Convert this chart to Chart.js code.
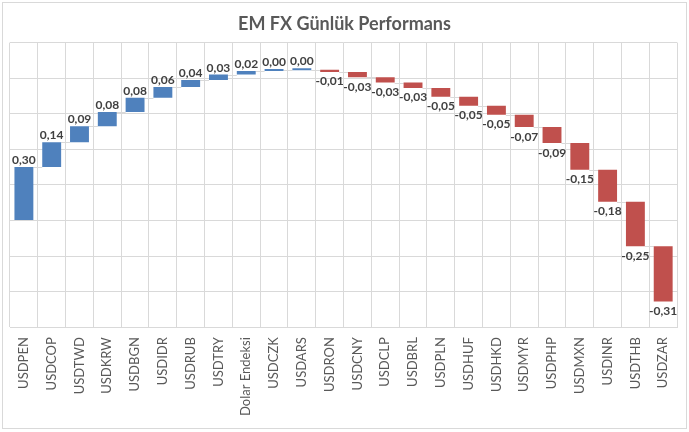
<!DOCTYPE html>
<html>
<head>
<meta charset="utf-8">
<script src="https://cdn.jsdelivr.net/npm/chart.js@4"></script>
<style>
  html, body { margin: 0; padding: 0; background: #fff; }
  #wrap { width: 689px; height: 432px; position: relative; }
</style>
</head>
<body>
<div id="wrap"><canvas id="chart"></canvas></div>
<script>
  // categories and daily change (%)
  const categories = ['USDPEN', 'USDCOP', 'USDTWD', 'USDKRW', 'USDBGN', 'USDIDR', 'USDRUB', 'USDTRY',
    'Dolar Endeksi', 'USDCZK', 'USDARS', 'USDRON', 'USDCNY', 'USDCLP', 'USDBRL', 'USDPLN', 'USDHUF',
    'USDHKD', 'USDMYR', 'USDPHP', 'USDMXN', 'USDINR', 'USDTHB', 'USDZAR'];
  const changes = [0.30, 0.14, 0.09, 0.08, 0.08, 0.06, 0.04, 0.03, 0.02, 0.004, 0.003, -0.012, -0.03,
    -0.03, -0.03, -0.05, -0.05, -0.05, -0.07, -0.09, -0.15, -0.18, -0.25, -0.31];
  const yTicks = [-0.6, 1.0, 0.2]; // min, max, step

  const BLUE = '#4F81BD';
  const RED = '#C0504D';
  const GRID = '#D9D9D9';

  // waterfall: each bar starts where the previous one ended
  let running = 0;
  const floating = changes.map(v => {
    const start = running;
    running += v;
    return [start, running];
  });

  const fmt = v => v.toFixed(2).replace('.', ',');

  // light grey lines joining one bar's end to the next bar's start
  const connectors = {
    id: 'connectors',
    beforeDatasetsDraw(chart) {
      const ctx = chart.ctx;
      const meta = chart.getDatasetMeta(0);
      const y = chart.scales.y;
      ctx.save();
      ctx.strokeStyle = GRID;
      ctx.lineWidth = 1;
      for (let i = 0; i < meta.data.length - 1; i++) {
        const a = meta.data[i], b = meta.data[i + 1];
        const py = Math.round(y.getPixelForValue(floating[i][1])) + 0.5;
        ctx.beginPath();
        ctx.moveTo(a.x + a.width / 2, py);
        ctx.lineTo(b.x - b.width / 2, py);
        ctx.stroke();
      }
      ctx.restore();
    }
  };

  // value labels: above positive bars, below negative ones
  const valueLabels = {
    id: 'valueLabels',
    afterDatasetsDraw(chart) {
      const ctx = chart.ctx;
      const meta = chart.getDatasetMeta(0);
      ctx.save();
      ctx.font = 'bold 12px Lato';
      ctx.fillStyle = '#404040';
      ctx.textAlign = 'center';
      ctx.textBaseline = 'alphabetic';
      meta.data.forEach((bar, i) => {
        const v = changes[i];
        const top = Math.min(bar.y, bar.base);
        const bottom = Math.max(bar.y, bar.base);
        if (v >= 0) {
          ctx.fillText(fmt(v), bar.x, top - 3);
        } else {
          ctx.fillText(fmt(v), bar.x, bottom + 13.5);
        }
      });
      ctx.restore();
    }
  };

  // thin outer frame of the chart
  const frame = {
    id: 'frame',
    afterDraw(chart) {
      const ctx = chart.ctx;
      ctx.save();
      ctx.strokeStyle = GRID;
      ctx.lineWidth = 1;
      ctx.strokeRect(2.5, 2.5, 684, 426);
      ctx.restore();
    }
  };

  new Chart(document.getElementById('chart'), {
    type: 'bar',
    data: {
      labels: categories,
      datasets: [{
        data: floating,
        backgroundColor: changes.map(v => v >= 0 ? BLUE : RED),
        borderWidth: 0,
        borderSkipped: false,
        barPercentage: 0.68,
        categoryPercentage: 1,
        minBarLength: 2
      }]
    },
    options: {
      responsive: true,
      maintainAspectRatio: false,
      animation: false,
      layout: { padding: { top: 5, left: 10, right: 10, bottom: 6 } },
      plugins: {
        legend: { display: false },
        tooltip: { enabled: false },
        title: {
          display: true,
          text: 'EM FX Günlük Performans',
          color: '#595959',
          font: { family: 'Lato', size: 18, weight: 'bold' },
          padding: { top: 8, bottom: 8 }
        }
      },
      scales: {
        x: {
          grid: { color: GRID, drawTicks: false, offset: true },
          border: { color: GRID },
          ticks: {
            color: '#595959',
            font: { family: 'Lato', size: 13 },
            minRotation: 90,
            maxRotation: 90,
            autoSkip: false,
            padding: 10
          }
        },
        y: {
          min: yTicks[0],
          max: yTicks[1],
          grid: { color: GRID, drawTicks: false },
          border: { display: false },
          ticks: { display: false, stepSize: yTicks[2] }
        }
      }
    },
    plugins: [connectors, valueLabels, frame]
  });
</script>
</body>
</html>
